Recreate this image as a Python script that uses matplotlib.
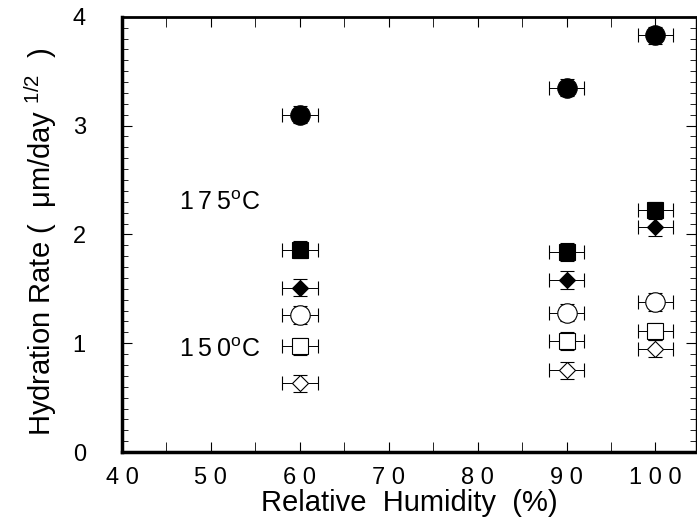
import matplotlib
matplotlib.use("Agg")
import matplotlib.pyplot as plt
from matplotlib.ticker import MultipleLocator, FuncFormatter

plt.rcParams['font.family'] = ['Liberation Sans', 'DejaVu Sans']
plt.rcParams['mathtext.fontset'] = 'custom'
plt.rcParams['mathtext.rm'] = 'Liberation Sans'
plt.rcParams['mathtext.it'] = 'Liberation Sans'

# relative humidity (%)
humidity = [60, 90, 100]

# hydration rate, um/day^1/2
rate_175_circle = [3.10, 3.35, 3.83]
rate_175_square = [1.86, 1.84, 2.22]
rate_175_diamond = [1.51, 1.58, 2.07]
rate_150_circle = [1.26, 1.28, 1.38]
rate_150_square = [0.97, 1.02, 1.11]
rate_150_diamond = [0.63, 0.75, 0.95]

x_err = 2.0
y_err = 0.08

series = [
    (rate_175_circle, 'o', 'black', 14),
    (rate_175_square, 's', 'black', 12),
    (rate_175_diamond, 'D', 'black', 8),
    (rate_150_circle, 'o', 'white', 14),
    (rate_150_square, 's', 'white', 12),
    (rate_150_diamond, 'D', 'white', 8),
]

SP = '\u2009'  # thin space for the wide letter spacing of the original

fig = plt.figure(figsize=(6.97, 5.25), dpi=100)
ax = fig.add_axes([0.175, 0.139, 0.824, 0.829])

for vals, marker, face, size in series:
    ax.errorbar(humidity, vals, xerr=x_err, yerr=y_err, fmt=marker,
                mfc=face, mec='black', mew=0.8, ms=size,
                ecolor='black', elinewidth=0.7, capsize=5, capthick=0.7,
                zorder=3)

ax.text(51.0, 2.29, '1' + SP + '7' + SP + '5$^{\\mathrm{o}}$C', fontsize=18,
        ha='center', va='center')
ax.text(51.0, 0.94, '1' + SP + '5' + SP + '0$^{\\mathrm{o}}$C', fontsize=18,
        ha='center', va='center')

ax.set_xlim(40, 104.6)
ax.set_ylim(0, 4)

ax.xaxis.set_major_locator(MultipleLocator(10))
ax.xaxis.set_minor_locator(MultipleLocator(5))
ax.yaxis.set_major_locator(MultipleLocator(1))
ax.yaxis.set_minor_locator(MultipleLocator(0.1))
ax.xaxis.set_major_formatter(FuncFormatter(lambda v, p: ' '.join(str(int(v)))))

ax.tick_params(which='both', direction='in', top=True, right=True)
ax.tick_params(which='major', length=7, width=0.8, labelsize=17)
ax.tick_params(which='minor', length=4, width=0.6)
ax.tick_params(axis='x', which='minor', length=7)
ax.tick_params(axis='x', which='major', pad=11)
ax.tick_params(axis='y', which='major', pad=26)

ax.spines['left'].set_linewidth(2.5)
ax.spines['bottom'].set_linewidth(2.5)
ax.spines['top'].set_linewidth(2.0)
ax.spines['right'].set_linewidth(1.0)

ax.set_xlabel('Relative  Humidity  (%)', fontsize=21, labelpad=0)
ax.set_ylabel('Hydration Rate (  \u03bcm/day $^{1/2}$  )', fontsize=21)
ax.yaxis.set_label_coords(-0.11, 0.483)

fig.savefig('out.png', dpi=100)
